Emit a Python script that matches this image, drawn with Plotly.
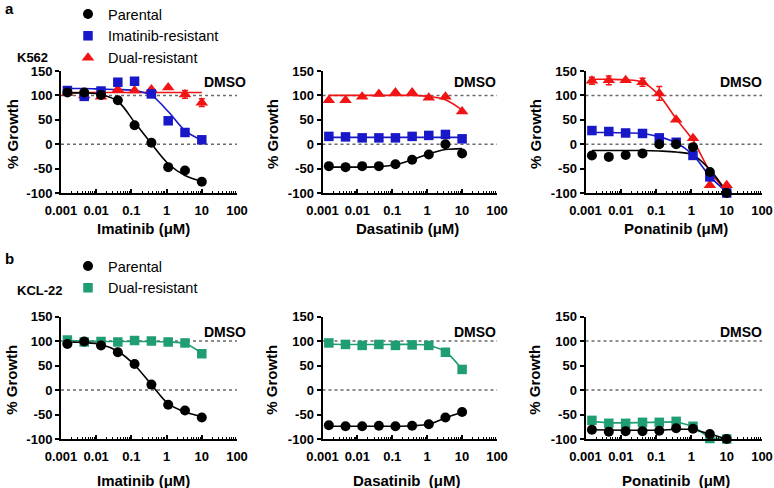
import plotly.graph_objects as go

W, H = 774, 488
def PX(x): return x / W
def PY(y): return 1 - y / H

# ---------------- data ----------------
conc = [0.00152, 0.00457, 0.0137, 0.0412, 0.123, 0.370, 1.11, 3.33, 10]
drugs = ["Imatinib", "Dasatinib", "Ponatinib"]

# K562 (panel a)
k_imat_par = [106, 106, 101, 90, 39, 3, -47, -54, -77]
k_imat_par_fit = [105, 105, 102, 88, 45, 1, -40, -64, -76]
k_imat_imr = [110, 98, 109, 127, 129, 103, 48, 24, 9]
k_imat_imr_fit = [114, 114, 113, 112, 110, 100, 67, 28, 8]
k_imat_dual = [105, 100, 97, 112, 110, 112, 116, 102, 85]
k_imat_dual_err = [0, 0, 0, 0, 0, 0, 0, 8, 8]
k_imat_dual_fit = [106, 106, 106, 106, 106, 106, 106, 106, 106]

k_dasa_par = [-45, -47, -45, -45, -41, -32, -21, 0, -19]
k_dasa_par_err = [0, 5, 0, 0, 0, 0, 0, 0, 0]
k_dasa_par_fit = [-47, -47, -47, -46, -42, -32, -20, -11, -9]
k_dasa_imr = [16, 15, 13, 13, 13, 16, 18, 20, 11]
k_dasa_imr_fit = [14, 14, 14, 14, 14, 14, 14, 14, 14]
k_dasa_dual = [90, 90, 97, 103, 106, 106, 95, 97, 67]
k_dasa_dual_fit = [100, 100, 100, 100, 100, 100, 98, 91, 70]

k_pona_par = [-23, -26, -22, -19, 0, 0, -6, -57, -100]
k_pona_par_fit = [-13, -13, -13, -13, -14, -16, -22, -52, -98]
k_pona_imr = [28, 26, 23, 22, 13, 4, -23, -67, -100]
k_pona_imr_fit = [24, 24, 23, 22, 15, 3, -22, -66, -98]
k_pona_dual = [130, 131, 131, 127, 104, 50, 12, -84, -84]
k_pona_dual_err = [7, 9, 0, 8, 14, 0, 0, 0, 0]
k_pona_dual_fit = [133, 133, 132, 127, 100, 52, 8, -55, -97]

# KCL-22 (panel b)
c_imat_par = [94, 99, 91, 77, 53, 11, -30, -42, -56]
c_imat_par_fit = [98, 97, 93, 79, 51, 11, -28, -45, -54]
c_imat_dual = [102, 98, 99, 98, 101, 100, 98, 96, 74]
c_imat_dual_fit = [101, 100, 99, 99, 99, 99, 98, 95, 75]

c_dasa_par = [-72, -74, -74, -73, -74, -73, -70, -56, -45]
c_dasa_par_fit = [-74, -74, -74, -74, -74, -73, -70, -57, -45]
c_dasa_dual = [96, 93, 91, 93, 91, 92, 91, 77, 42]
c_dasa_dual_fit = [94, 93, 93, 93, 93, 93, 91, 78, 42]

c_pona_par = [-81, -85, -84, -84, -83, -78, -79, -90, -100]
c_pona_par_fit = [-81, -82, -82, -82, -82, -80, -80, -90, -100]
c_pona_dual = [-62, -68, -68, -66, -66, -64, -74, -99, -100]
c_pona_dual_fit = [-64, -67, -67, -66, -66, -65, -74, -98, -100]

x_tickvals = [0.001, 0.01, 0.1, 1, 10, 100]
x_ticktext = ["0.001", "0.01", "0.1", "1", "10", "100"]
y_tickvals = [-100, -50, 0, 50, 100, 150]
y_ticktext = ["-100", "-50", "0", "50", "100", "150"]
x_titles_top = ["Imatinib (\u03bcM)", "Dasatinib (\u03bcM)", "Ponatinib (\u03bcM)"]
x_titles_bot = ["Imatinib (\u03bcM)", "Dasatinib  (\u03bcM)", "Ponatinib  (\u03bcM)"]

# ---------------- style ----------------
FONT = "Liberation Sans, Arial, sans-serif"
BLACK, BLUE, RED, GREEN = "#000000", "#1818c8", "#f01414", "#1f9e72"
series_style = {
    "Parental": dict(color=BLACK, symbol="circle", size=10, rank=1),
    "Imatinib-resistant": dict(color=BLUE, symbol="square", size=9.5, rank=2),
    "Dual-resistant": dict(color=RED, symbol="triangle-up", size=11, rank=3),
}

xdom = [(61, 237), (322.5, 497), (585.5, 762)]
ydom_top = (71, 193)
ydom_bot = (316.5, 439)

fig = go.Figure()

panels = [
    (0, 0, [("Dual-resistant", k_imat_dual, k_imat_dual_err, k_imat_dual_fit, None),
            ("Imatinib-resistant", k_imat_imr, None, k_imat_imr_fit, None),
            ("Parental", k_imat_par, None, k_imat_par_fit, None)]),
    (0, 1, [("Dual-resistant", k_dasa_dual, None, k_dasa_dual_fit, None),
            ("Imatinib-resistant", k_dasa_imr, None, k_dasa_imr_fit, None),
            ("Parental", k_dasa_par, k_dasa_par_err, k_dasa_par_fit, None)]),
    (0, 2, [("Dual-resistant", k_pona_dual, k_pona_dual_err, k_pona_dual_fit, None),
            ("Imatinib-resistant", k_pona_imr, None, k_pona_imr_fit, None),
            ("Parental", k_pona_par, None, k_pona_par_fit, None)]),
    (1, 0, [("Dual-resistant", c_imat_dual, None, c_imat_dual_fit, GREEN),
            ("Parental", c_imat_par, None, c_imat_par_fit, None)]),
    (1, 1, [("Dual-resistant", c_dasa_dual, None, c_dasa_dual_fit, GREEN),
            ("Parental", c_dasa_par, None, c_dasa_par_fit, None)]),
    (1, 2, [("Dual-resistant", c_pona_dual, None, c_pona_dual_fit, GREEN),
            ("Parental", c_pona_par, None, c_pona_par_fit, None)]),
]

layout = {}
annotations = []
shapes = []
for i, (row, col, series) in enumerate(panels):
    n = i + 1
    xa = "x" if n == 1 else f"x{n}"
    ya = "y" if n == 1 else f"y{n}"
    xkey = "xaxis" if n == 1 else f"xaxis{n}"
    ykey = "yaxis" if n == 1 else f"yaxis{n}"
    yd = ydom_top if row == 0 else ydom_bot
    x0, x1 = xdom[col]
    layout[xkey] = dict(
        type="log", range=[-3, 2], domain=[PX(x0), PX(x1)], anchor=ya,
        showline=True, linewidth=2, linecolor="black", showgrid=False, zeroline=False,
        tickmode="array", tickvals=x_tickvals, ticktext=x_ticktext,
        ticks="inside", ticklen=4, tickwidth=1.5, tickcolor="black",
        minor=dict(ticks="inside", ticklen=2, tickwidth=1, tickcolor="black",
                   tickvals=[m * 10.0 ** e for e in range(-3, 2) for m in range(2, 10)]),
        tickfont=dict(family=FONT, size=13, color="black", weight="bold"),
        ticklabelstandoff=4, automargin=False,
    )
    layout[ykey] = dict(
        range=[-100, 150], domain=[PY(yd[1]), PY(yd[0])], anchor=xa,
        showline=True, linewidth=2, linecolor="black", showgrid=False, zeroline=False,
        tickmode="array", tickvals=y_tickvals, ticktext=y_ticktext,
        ticks="outside", ticklen=4, tickwidth=1.5, tickcolor="black",
        tickfont=dict(family=FONT, size=13, color="black", weight="bold"),
        automargin=False,
    )
    for yv in (0, 100):
        shapes.append(dict(type="line", xref=f"{xa} domain", yref=ya, x0=0, x1=1,
                           y0=yv, y1=yv, line=dict(color="#6a6a6a", width=1.5, dash="dot"),
                           layer="below"))
    for name, vals, err, fit, cov in series:
        st = series_style[name]
        color = cov or st["color"]
        fig.add_trace(go.Scatter(
            x=conc, y=fit, mode="lines",
            line=dict(color=color, width=1.6,
                      shape="linear" if (row == 1 and col == 2) else "spline", smoothing=0.9),
            xaxis=xa, yaxis=ya, showlegend=False, hoverinfo="skip", cliponaxis=False))
    for name, vals, err, fit, cov in series:
        st = series_style[name]
        color = cov or st["color"]
        symbol = "square" if cov else st["symbol"]
        size = 9.5 if cov else st["size"]
        tr = dict(x=conc, y=vals, mode="markers", name=name,
                  marker=dict(color=color, symbol=symbol, size=size, line=dict(width=0)),
                  xaxis=xa, yaxis=ya, cliponaxis=False,
                  showlegend=(col == 0), legendrank=st["rank"],
                  legend="legend" if row == 0 else "legend2")
        if err is not None:
            tr["error_y"] = dict(type="data", array=err, visible=True, color=color,
                                 thickness=1.5, width=3)
        fig.add_trace(go.Scatter(**tr))

    dmso_x = {0: 248, 1: 498, 2: 764}[col]
    dmso_y = 82 if row == 0 else 331.5
    annotations.append(dict(text="DMSO", x=PX(dmso_x), y=PY(dmso_y), xref="paper", yref="paper",
                            xanchor="right", yanchor="middle", showarrow=False,
                            font=dict(family=FONT, size=14, color="black", weight="bold")))
    titles = x_titles_top if row == 0 else x_titles_bot
    tx = {0: 143, 1: 407, 2: 676}[col]
    ty = 229 if row == 0 else 480
    annotations.append(dict(text=titles[col], x=PX(tx), y=PY(ty), xref="paper", yref="paper",
                            xanchor="center", yanchor="middle", showarrow=False,
                            font=dict(family=FONT, size=15, color="black", weight="bold")))
    yx = {0: 12, 1: 272, 2: 535}[col]
    annotations.append(dict(text="% Growth", x=PX(yx), y=PY((yd[0] + yd[1]) / 2 + 2),
                            xref="paper", yref="paper", textangle=-90,
                            xanchor="center", yanchor="middle", showarrow=False,
                            font=dict(family=FONT, size=15, color="black", weight="bold")))

for txt, x, y, sz in [("a", 3, 8, 15), ("b", 3, 258, 15), ("K562", 15, 58, 13), ("KCL-22", 15, 290, 13)]:
    annotations.append(dict(text=txt, x=PX(x), y=PY(y), xref="paper", yref="paper",
                            xanchor="left", yanchor="middle", showarrow=False,
                            font=dict(family=FONT, size=sz, color="black", weight="bold")))

legend_common = dict(xanchor="left", yanchor="top", bgcolor="rgba(0,0,0,0)",
                     font=dict(family=FONT, size=14.5, color="black"),
                     itemclick=False, itemdoubleclick=False, tracegroupgap=0,
                     borderwidth=0)
fig.update_layout(
    width=W, height=H, margin=dict(l=0, r=0, t=0, b=0, pad=0, autoexpand=False),
    paper_bgcolor="white", plot_bgcolor="white",
    annotations=annotations, shapes=shapes,
    legend=dict(x=PX(68), y=PY(-2), **legend_common),
    legend2=dict(x=PX(68), y=PY(250), **legend_common),
    **layout,
)

fig.write_html("out.html", config={"displayModeBar": False},
               post_script="document.body.style.margin='0px';document.body.style.overflow='hidden';")
